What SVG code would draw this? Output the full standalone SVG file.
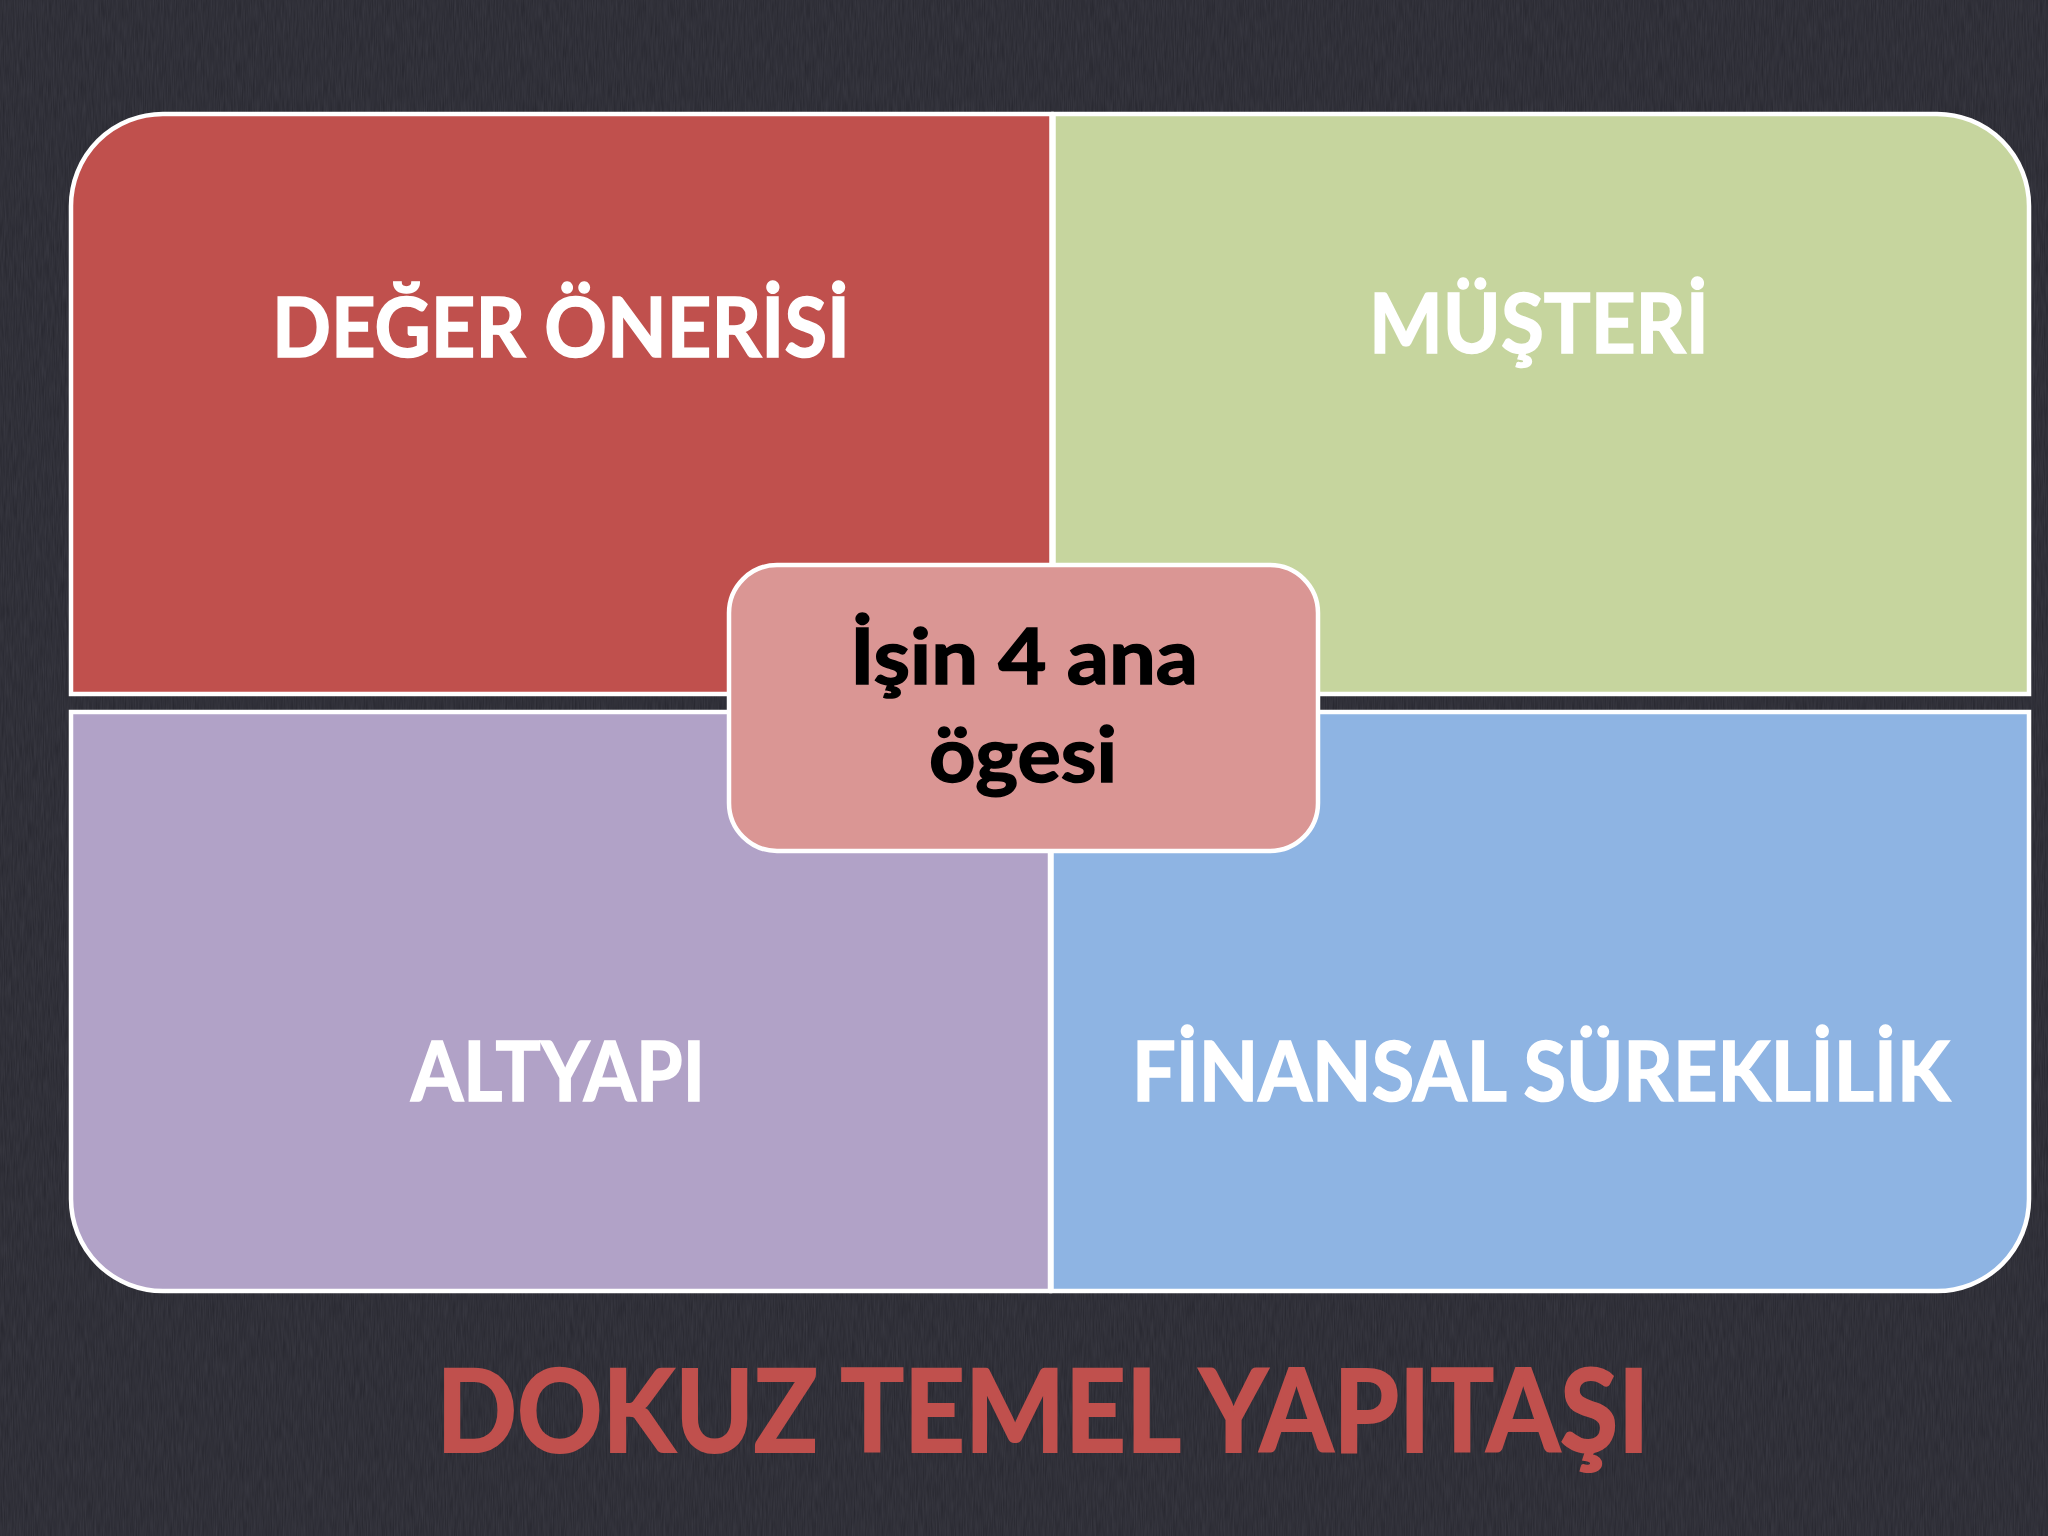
<svg xmlns="http://www.w3.org/2000/svg" width="2048" height="1536" viewBox="0 0 2048 1536">
  <defs>
    <filter id="tex" x="0" y="0" width="100%" height="100%">
      <feTurbulence type="fractalNoise" baseFrequency="0.9 0.05" numOctaves="2" seed="3" result="n"/>
      <feColorMatrix type="matrix" values="0 0 0 0 0.22  0 0 0 0 0.22  0 0 0 0 0.27  0 0 0 0.22 0" in="n"/>
    </filter>
    <style>
      .panel { stroke: #FFFFFF; stroke-width: 4.5; }
      .qt { font-family: Lato, "Open Sans", "Liberation Sans", sans-serif; font-weight: 700; font-size: 82px; fill: #FFFFFF; stroke: #FFFFFF; stroke-width: 1.5; text-anchor: middle; }
      .ct { font-family: Lato, "Open Sans", "Liberation Sans", sans-serif; font-weight: 700; font-size: 76px; fill: #000000; stroke: #000000; stroke-width: 1.5; text-anchor: middle; }
      .title { font-family: Lato, "Open Sans", "Liberation Sans", sans-serif; font-weight: 700; font-size: 114px; fill: #C0504D; stroke: #C0504D; stroke-width: 2; text-anchor: middle; }
    </style>
  </defs>
  <rect x="0" y="0" width="2048" height="1536" fill="#26262E"/>
  <rect x="0" y="0" width="2048" height="1536" filter="url(#tex)"/>

  <g id="deger-onerisi">
    <path class="panel" fill="#C0504D" d="M71,694 V206 A92,92 0 0 1 163,114 H1051.5 V694 Z"/>
    <text class="qt" x="561" y="357" textLength="578" lengthAdjust="spacingAndGlyphs">DEĞER ÖNERİSİ</text>
  </g>
  <g id="musteri">
    <path class="panel" fill="#C6D59E" d="M1053.5,114 H1937 A92,92 0 0 1 2029,206 V694 H1053.5 Z"/>
    <text class="qt" x="1539" y="353" textLength="340" lengthAdjust="spacingAndGlyphs">MÜŞTERİ</text>
  </g>
  <g id="altyapi">
    <path class="panel" fill="#B1A2C7" d="M71,712 H1050 V1291 H163 A92,92 0 0 1 71,1199 Z"/>
    <text class="qt" x="558" y="1101" textLength="294" lengthAdjust="spacingAndGlyphs">ALTYAPI</text>
  </g>
  <g id="finansal-sureklilik">
    <path class="panel" fill="#8EB4E3" d="M1051.5,712 H2029 V1199 A92,92 0 0 1 1937,1291 H1051.5 Z"/>
    <text class="qt" x="1541" y="1101" textLength="818" lengthAdjust="spacingAndGlyphs">FİNANSAL SÜREKLİLİK</text>
  </g>
  <g id="isin-4-ana-ogesi">
    <rect class="panel" fill="#DA9694" x="729" y="565" width="589" height="286" rx="48" ry="48"/>
    <text class="ct" x="1024" y="684" textLength="348" lengthAdjust="spacingAndGlyphs">İşin 4 ana</text>
    <text class="ct" x="1023" y="782" textLength="188" lengthAdjust="spacingAndGlyphs">ögesi</text>
  </g>
  <g id="connectors"/>
  <text id="title" class="title" x="1043" y="1452" textLength="1213" lengthAdjust="spacingAndGlyphs">DOKUZ TEMEL YAPITAŞI</text>
</svg>
